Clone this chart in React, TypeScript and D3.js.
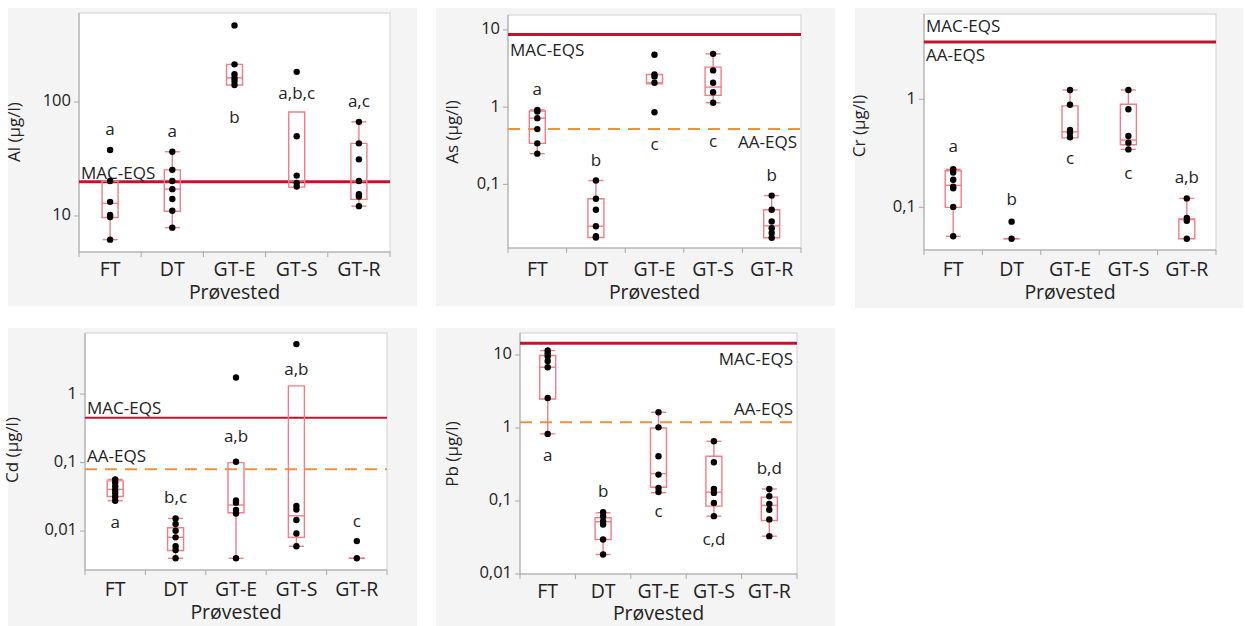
import React from "react";
import * as d3 from "d3";

const categories = ["FT", "DT", "GT-E", "GT-S", "GT-R"];

// ---- Al ----
const alPoints = [
  [37.9, 20.3, 13.3, 10.2, 9.8, 6.2],
  [36.6, 25.4, 20.3, 17.2, 14.1, 11.1, 7.9],
  [470, 214, 175, 163, 153, 141],
  [184, 50, 22.6, 19.5, 18.1],
  [67, 43.4, 31.4, 20.3, 15.5, 14.8, 12.2],
];
const alBoxes = [
  [6.2, 9.7, 12.9, 20.3, 20.3],
  [7.9, 11, 17.2, 25.4, 36.6],
  [141, 141, 163, 214, 214],
  [17.9, 17.9, 20.3, 81.7, 81.7],
  [12.2, 14, 20.3, 43.4, 67],
];
const alLetters = ["a", "a", "b", "a,b,c", "a,c"];
const alLetterY = [56.7, 54.6, 72.4, 117, 100];
const alTicks = [10, 100];
const alMac = 20;

// ---- As ----
const asPoints = [
  [0.92, 0.88, 0.72, 0.52, 0.34, 0.25],
  [0.112, 0.065, 0.047, 0.0287, 0.0213, 0.0205],
  [4.77, 2.65, 2.5, 2.07, 0.86],
  [4.9, 2.99, 2.07, 1.56, 1.14],
  [0.0716, 0.047, 0.033, 0.027, 0.0235, 0.0204],
];
const asBoxes = [
  [0.25, 0.34, 0.72, 0.89, 0.92],
  [0.0205, 0.0205, 0.0287, 0.065, 0.112],
  [2.0, 2.0, 2.07, 2.65, 2.65],
  [1.14, 1.42, 1.82, 3.3, 4.9],
  [0.0204, 0.0204, 0.029, 0.047, 0.0716],
];
const asLetters = ["a", "b", "c", "c", "b"];
const asLetterY = [1.63, 0.2, 0.315, 0.345, 0.125];
const asTicks = [0.1, 1, 10];
const asMac = 8.7;
const asAa = 0.52;

// ---- Cr ----
const crPoints = [
  [0.225, 0.21, 0.18, 0.155, 0.15, 0.101, 0.054],
  [0.0737, 0.0513],
  [1.22, 0.89, 0.52, 0.49, 0.445],
  [1.22, 0.81, 0.457, 0.397, 0.344],
  [0.121, 0.08, 0.075, 0.0513],
];
const crBoxes = [
  [0.054, 0.1, 0.16, 0.218, 0.225],
  [0.0513, 0.0513, 0.0513, 0.0513, 0.0513],
  [0.44, 0.44, 0.5, 0.87, 1.22],
  [0.344, 0.38, 0.42, 0.9, 1.22],
  [0.0513, 0.0513, 0.077, 0.078, 0.121],
];
const crLetters = ["a", "b", "c", "c", "a,b"];
const crLetterY = [0.362, 0.117, 0.28, 0.203, 0.187];
const crTicks = [0.1, 1];
const crMac = 3.4;

// ---- Cd ----
const cdPoints = [
  [0.0568, 0.051, 0.045, 0.0397, 0.036, 0.0317, 0.0277],
  [0.0153, 0.0127, 0.0101, 0.0081, 0.006, 0.0053, 0.004],
  [1.75, 0.103, 0.028, 0.026, 0.0203, 0.018, 0.004],
  [5.37, 0.0232, 0.0206, 0.0145, 0.0092, 0.006],
  [0.00714, 0.004],
];
const cdBoxes = [
  [0.0277, 0.032, 0.0406, 0.054, 0.0568],
  [0.004, 0.0052, 0.0081, 0.0112, 0.0153],
  [0.004, 0.0185, 0.024, 0.1, 0.1],
  [0.006, 0.0081, 0.0167, 1.32, 1.32],
  [0.004, 0.004, 0.004, 0.004, 0.004],
];
const cdLetters = ["a", "b,c", "a,b", "a,b", "c"];
const cdLetterY = [0.0131, 0.0303, 0.236, 2.24, 0.0135];
const cdTicks = [0.01, 0.1, 1];
const cdMac = 0.45;
const cdAa = 0.08;

// ---- Pb ----
const pbPoints = [
  [11.5, 10.6, 9.6, 8.3, 6.8, 2.57, 0.83],
  [0.07, 0.062, 0.053, 0.0476, 0.0297, 0.0185],
  [1.64, 1.02, 0.41, 0.23, 0.151, 0.133],
  [0.657, 0.339, 0.146, 0.129, 0.094, 0.062],
  [0.146, 0.116, 0.091, 0.076, 0.056, 0.033],
];
const pbBoxes = [
  [0.83, 2.5, 6.8, 9.85, 11.5],
  [0.0185, 0.0297, 0.052, 0.059, 0.069],
  [0.13, 0.154, 0.237, 1.0, 1.64],
  [0.062, 0.085, 0.132, 0.41, 0.657],
  [0.033, 0.054, 0.087, 0.113, 0.146],
];
const pbLetters = ["a", "b", "c", "c,d", "b,d"];
const pbLetterY = [0.405, 0.13, 0.069, 0.0287, 0.269];
const pbTicks = [0.01, 0.1, 1, 10];
const pbMac = 14.5;
const pbAa = 1.2;

const FONT = "'Open Sans', 'Noto Sans', sans-serif";
const BOX_COLOR = "#f27c88";
const MAC_COLOR = "#c8102e";
const AA_COLOR = "#f0913a";

type RefLabel = { text: string; anchor: "start" | "end"; dy: number };
type Panel = {
  label: string;
  points: number[][];
  boxes: number[][];
  letters: string[];
  letterY: number[];
  ticks: number[];
  domain: [number, number];
  mac: number;
  aa: number | null;
  bg: [number, number, number, number];
  plot: [number, number, number, number];
  yLabelX: number;
  yLabelY: number;
  tickY: number;
  titleY: number;
  macLabel: RefLabel;
  aaLabel: RefLabel | null;
  aaLabelAtMac?: boolean;
  macWidth: number;
};

const panels: Panel[] = [
  {
    label: "Al (µg/l)",
    points: alPoints, boxes: alBoxes, letters: alLetters, letterY: alLetterY, ticks: alTicks,
    domain: [4.83, 604], mac: alMac, aa: null,
    bg: [8, 8, 417, 306], plot: [79, 13, 390, 252],
    yLabelX: 15, yLabelY: 132, tickY: 271, titleY: 294,
    macLabel: { text: "MAC-EQS", anchor: "start", dy: -7 }, aaLabel: null, macWidth: 3,
  },
  {
    label: "As (µg/l)",
    points: asPoints, boxes: asBoxes, letters: asLetters, letterY: asLetterY, ticks: asTicks,
    domain: [0.015, 15.6], mac: asMac, aa: asAa,
    bg: [436, 8, 835, 306], plot: [508, 15, 801, 248],
    yLabelX: 453, yLabelY: 132, tickY: 271, titleY: 294,
    macLabel: { text: "MAC-EQS", anchor: "start", dy: 17 },
    aaLabel: { text: "AA-EQS", anchor: "end", dy: 14 }, macWidth: 3,
  },
  {
    label: "Cr (µg/l)",
    points: crPoints, boxes: crBoxes, letters: crLetters, letterY: crLetterY, ticks: crTicks,
    domain: [0.0403, 6.16], mac: crMac, aa: null,
    bg: [855, 8, 1243, 308], plot: [924, 14, 1216, 250],
    yLabelX: 860, yLabelY: 126, tickY: 271, titleY: 294,
    macLabel: { text: "MAC-EQS", anchor: "start", dy: -14 },
    aaLabel: { text: "AA-EQS", anchor: "start", dy: 15 }, aaLabelAtMac: true, macWidth: 3,
  },
  {
    label: "Cd (µg/l)",
    points: cdPoints, boxes: cdBoxes, letters: cdLetters, letterY: cdLetterY, ticks: cdTicks,
    domain: [0.0027, 7.8], mac: cdMac, aa: cdAa,
    bg: [8, 328, 417, 626], plot: [85, 333, 387, 570],
    yLabelX: 13, yLabelY: 450, tickY: 591, titleY: 614,
    macLabel: { text: "MAC-EQS", anchor: "start", dy: -8 },
    aaLabel: { text: "AA-EQS", anchor: "start", dy: -12 }, macWidth: 2,
  },
  {
    label: "Pb (µg/l)",
    points: pbPoints, boxes: pbBoxes, letters: pbLetters, letterY: pbLetterY, ticks: pbTicks,
    domain: [0.01, 20], mac: pbMac, aa: pbAa,
    bg: [436, 328, 835, 626], plot: [520, 333, 797, 574],
    yLabelX: 453, yLabelY: 454, tickY: 593, titleY: 615,
    macLabel: { text: "MAC-EQS", anchor: "end", dy: 17 },
    aaLabel: { text: "AA-EQS", anchor: "end", dy: -12 }, macWidth: 3,
  },
];

const fmt = (v: number) => String(v).replace(".", ",");

function PanelView({ p }: { p: Panel }) {
  const [x0, y0, x1, y1] = p.plot;
  const y = d3.scaleLog().domain(p.domain).range([y1, y0]);
  const x = d3.scaleBand<string>().domain(categories).range([x0, x1]).padding(0);
  const bw = x.bandwidth();
  const boxW = 16;
  const capW = 15;
  const macY = y(p.mac);
  const aaY = p.aa != null ? y(p.aa) : null;
  const boundaries = [...categories.map((c) => x(c) as number), x1];

  const refLabel = (lab: RefLabel, baseY: number) => (
    <text
      x={lab.anchor === "start" ? x0 + 2 : x1 - 4}
      y={baseY + lab.dy}
      textAnchor={lab.anchor}
      dominantBaseline="middle"
      fontSize={17}
      fill="#222"
    >
      {lab.text}
    </text>
  );

  return (
    <g fontFamily={FONT}>
      <rect x={p.bg[0]} y={p.bg[1]} width={p.bg[2] - p.bg[0]} height={p.bg[3] - p.bg[1]} fill="#f4f4f4" />
      <rect x={x0} y={y0} width={x1 - x0} height={y1 - y0} fill="#fff" stroke="#cfcfcf" strokeWidth={1} />
      <line x1={x0} x2={x0} y1={y0} y2={y1} stroke="#a8a8a8" />
      <line x1={x0} x2={x1} y1={y1} y2={y1} stroke="#a8a8a8" />
      {boundaries.map((b, i) => (
        <line key={"d" + i} x1={b} x2={b} y1={y1} y2={y1 + 5} stroke="#a8a8a8" />
      ))}
      {p.ticks.map((t) => (
        <g key={"t" + t}>
          <line x1={x0 - 5} x2={x0} y1={y(t)} y2={y(t)} stroke="#a8a8a8" />
          <text x={x0 - 8} y={y(t)} textAnchor="end" dominantBaseline="middle" fontSize={16.5} fill="#222">
            {fmt(t)}
          </text>
        </g>
      ))}
      {/* reference lines */}
      <line x1={x0} x2={x1} y1={macY} y2={macY} stroke={MAC_COLOR} strokeWidth={p.macWidth} />
      {aaY != null && (
        <line x1={x0} x2={x1} y1={aaY} y2={aaY} stroke={AA_COLOR} strokeWidth={2} strokeDasharray="12,8" />
      )}
      {refLabel(p.macLabel, macY)}
      {p.aaLabel && refLabel(p.aaLabel, p.aaLabelAtMac || aaY == null ? macY : aaY)}
      {/* boxes */}
      {categories.map((c, i) => {
        const cx = (x(c) as number) + bw / 2;
        const [lo, q1, med, q3, hi] = p.boxes[i];
        const yq1 = y(q1);
        const yq3 = y(q3);
        const path = `M${cx - boxW / 2},${yq3}H${cx + boxW / 2}V${yq1}H${cx - boxW / 2}Z`;
        return (
          <g key={"b" + c} stroke={BOX_COLOR} strokeWidth={1.4} fill="none">
            {hi > q3 && <line x1={cx} x2={cx} y1={y(hi)} y2={yq3} />}
            {hi > q3 && <line x1={cx - capW / 2} x2={cx + capW / 2} y1={y(hi)} y2={y(hi)} />}
            {lo < q1 && <line x1={cx} x2={cx} y1={y(lo)} y2={yq1} />}
            {lo < q1 && <line x1={cx - capW / 2} x2={cx + capW / 2} y1={y(lo)} y2={y(lo)} />}
            <path d={path} />
            <line x1={cx - boxW / 2} x2={cx + boxW / 2} y1={y(med)} y2={y(med)} />
          </g>
        );
      })}
      {/* points */}
      {categories.map((c, i) => {
        const cx = (x(c) as number) + bw / 2;
        return p.points[i].map((v, j) => <circle key={c + j} cx={cx} cy={y(v)} r={3.2} fill="#000" />);
      })}
      {/* letters */}
      {categories.map((c, i) => (
        <text
          key={"l" + c}
          x={(x(c) as number) + bw / 2}
          y={y(p.letterY[i])}
          textAnchor="middle"
          dominantBaseline="middle"
          fontSize={17}
          fill="#222"
        >
          {p.letters[i]}
        </text>
      ))}
      {/* x tick labels */}
      {categories.map((c) => (
        <text
          key={"x" + c}
          x={(x(c) as number) + bw / 2}
          y={p.tickY}
          textAnchor="middle"
          dominantBaseline="middle"
          fontSize={19.5}
          fill="#222"
        >
          {c}
        </text>
      ))}
      <text x={(x0 + x1) / 2} y={p.titleY} textAnchor="middle" dominantBaseline="middle" fontSize={19.5} fill="#222">
        Prøvested
      </text>
      <text
        transform={`translate(${p.yLabelX},${p.yLabelY}) rotate(-90)`}
        textAnchor="middle"
        dominantBaseline="middle"
        fontSize={17}
        fill="#222"
      >
        {p.label}
      </text>
    </g>
  );
}

export default function App() {
  return (
    <svg
      width={1245}
      height={626}
      style={{ position: "absolute", left: 0, top: 0, background: "#fff" }}
    >
      {panels.map((p) => (
        <PanelView key={p.label} p={p} />
      ))}
    </svg>
  );
}
